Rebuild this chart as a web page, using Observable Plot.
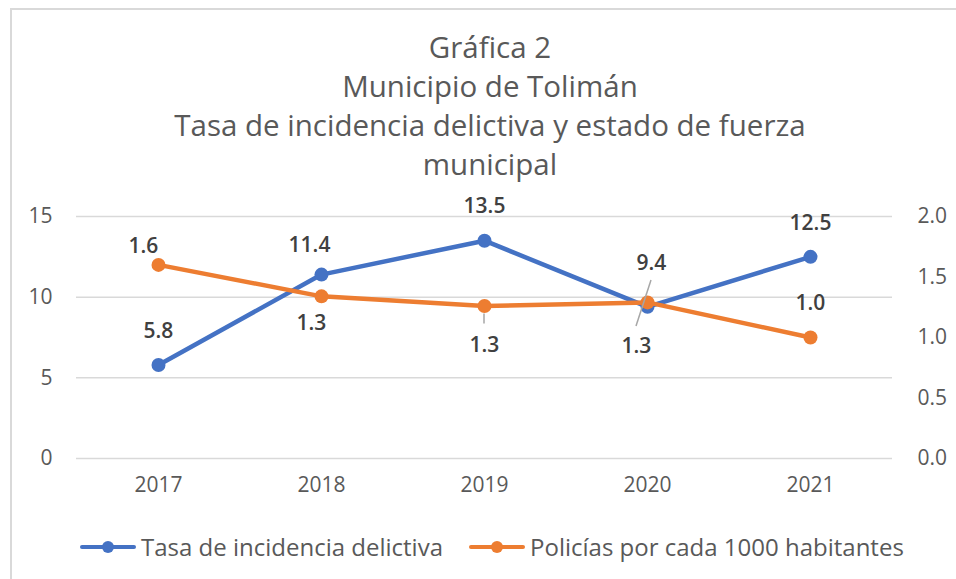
<!DOCTYPE html>
<html>
<head>
<meta charset="utf-8">
<script src="https://cdn.jsdelivr.net/npm/d3@7"></script>
<script src="https://cdn.jsdelivr.net/npm/@observablehq/plot@0.6"></script>
<style>
  html, body { margin: 0; padding: 0; background: #fff; }
  body { width: 956px; height: 579px; position: relative; overflow: hidden; font-family: "Open Sans", Roboto, sans-serif; }
  #frame { position: absolute; left: 10px; top: 8px; width: 960px; height: 590px; border: 2px solid #d9d9d9; box-sizing: border-box; }
  #title { position: absolute; left: 0; top: 27px; width: 980px; text-align: center; font-size: 29.5px; line-height: 39px; color: #595959; font-weight: 400; }
  #chart { position: absolute; left: 0; top: 190px; }
  #legend { position: absolute; left: 80px; top: 530px; display: flex; align-items: center; font-size: 24px; color: #595959; white-space: nowrap; }
  .item { display: flex; align-items: center; margin-right: 26px; }
  .sw { position: relative; width: 56px; height: 14px; margin-right: 5px; }
  .sw .ln { position: absolute; left: 0; top: 5px; width: 56px; height: 4.5px; border-radius: 2px; }
  .sw .dt { position: absolute; left: 22px; top: 1px; width: 12px; height: 12px; border-radius: 50%; }
</style>
</head>
<body>
<div id="frame"></div>
<div id="title"></div>
<div id="chart"></div>
<div id="legend"></div>
<script>
// ---- data ----
const titleLines = ["Gráfica 2", "Municipio de Tolimán", "Tasa de incidencia delictiva y estado de fuerza", "municipal"];
const years = ["2017", "2018", "2019", "2020", "2021"];
const tasa = [5.8, 11.4, 13.5, 9.4, 12.5];            // Tasa de incidencia delictiva (left axis)
const policias = [1.6, 1.34, 1.26, 1.29, 1.0];        // Policías por cada 1000 habitantes (right axis)
const leftTicks = [0, 5, 10, 15];
const rightTicks = [0, 0.5, 1.0, 1.5, 2.0];
const seriesNames = ["Tasa de incidencia delictiva", "Policías por cada 1000 habitantes"];
const colors = ["#4472c4", "#ed7d31"];

const k = 15 / 2; // right axis (0–2) mapped onto left axis (0–15)

const blue = years.map((y, i) => ({year: y, v: tasa[i], label: tasa[i].toFixed(1)}));
const orange = years.map((y, i) => ({year: y, v: policias[i] * k, label: policias[i].toFixed(1)}));

document.getElementById("title").innerHTML = titleLines.map(t => `<div>${t}</div>`).join("");

const labelStyle = {fontSize: 21, fontWeight: 600, fill: "#404040", stroke: null};
const lbl = (data, idx, dx, dy) => Plot.text(data.filter((d, i) => idx.includes(i)), {x: "year", y: "v", text: "label", dx, dy, ...labelStyle});

const plot = Plot.plot({
  width: 956,
  height: 320,
  marginTop: 26,
  marginBottom: 52,
  marginLeft: 76,
  marginRight: 64,
  x: {type: "point", domain: years, padding: 0.5, axis: null, label: null},
  y: {domain: [0, 15], axis: null, label: null},
  style: {fontFamily: "'Open Sans', Roboto, sans-serif", fontSize: "21px", color: "#595959", background: "transparent", overflow: "visible"},
  marks: [
    Plot.gridY(leftTicks, {stroke: "#d9d9d9", strokeOpacity: 1, strokeWidth: 1.5}),
    Plot.axisY(leftTicks, {anchor: "left", label: null, tickSize: 0, tickPadding: 24, fontSize: 21, fill: "#595959"}),
    Plot.axisY(rightTicks.map(d => d * k), {anchor: "right", label: null, tickSize: 0, tickPadding: 25, fontSize: 21, fill: "#595959", tickFormat: d => (d / k).toFixed(1), textAnchor: "start"}),
    Plot.axisX(years, {anchor: "bottom", label: null, tickSize: 0, tickPadding: 19, fontSize: 21, fill: "#595959"}),
    Plot.line(blue, {x: "year", y: "v", stroke: colors[0], strokeWidth: 4.5}),
    Plot.dot(blue, {x: "year", y: "v", r: 7, fill: colors[0], stroke: null}),
    Plot.line(orange, {x: "year", y: "v", stroke: colors[1], strokeWidth: 4.5}),
    Plot.dot(orange, {x: "year", y: "v", r: 7, fill: colors[1], stroke: null}),
    // blue labels
    lbl(blue, [0, 2, 4], 0, -34),
    lbl(blue, [1], -12, -29),
    lbl(blue, [3], 4, -44),
    // orange labels
    lbl(orange, [0], -15, -19),
    lbl(orange, [1], -10, 27),
    lbl(orange, [2], 0, 39),
    lbl(orange, [3], -11, 44),
    lbl(orange, [4], 0, -34)
  ]
});
document.getElementById("chart").appendChild(plot);

// leader lines, positioned through the plot's own scales
const sx = plot.scale("x"), sy = plot.scale("y");
const svg = d3.select(plot.tagName === "svg" ? plot : plot.querySelector("svg"));
const leaders = svg.append("g").attr("stroke", "#a6a6a6").attr("stroke-width", 1.5);
{
  const x = sx.apply(years[2]), y = sy.apply(orange[2].v);
  leaders.append("line").attr("x1", x).attr("x2", x).attr("y1", y + 8).attr("y2", y + 18);
}
{
  const x = sx.apply(years[3]), y = sy.apply(orange[3].v);
  leaders.append("line").attr("x1", x + 4).attr("y1", y - 22).attr("x2", x - 11).attr("y2", y + 24);
}

// legend
document.getElementById("legend").innerHTML = seriesNames.map((n, i) =>
  `<div class="item"><div class="sw"><div class="ln" style="background:${colors[i]}"></div><div class="dt" style="background:${colors[i]}"></div></div><span>${n}</span></div>`
).join("");
</script>
</body>
</html>
